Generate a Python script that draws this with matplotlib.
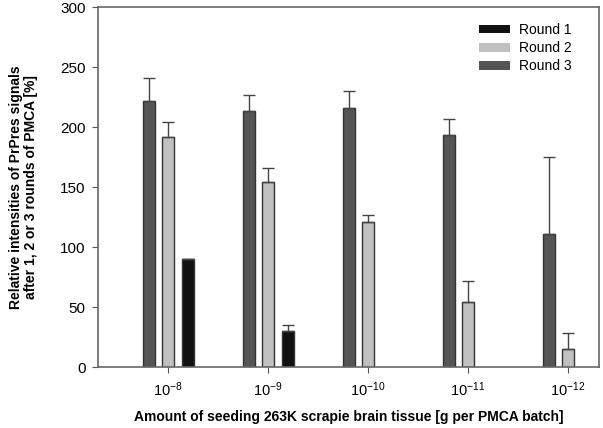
import numpy as np
import matplotlib.pyplot as plt

plt.rcParams['font.family'] = ['Liberation Sans', 'DejaVu Sans']
plt.rcParams['mathtext.fontset'] = 'custom'
plt.rcParams['mathtext.rm'] = 'Liberation Sans'
plt.rcParams['mathtext.it'] = 'Liberation Sans:italic'
plt.rcParams['mathtext.bf'] = 'Liberation Sans:bold'

doses = ['$\\mathregular{10^{-8}}$', '$\\mathregular{10^{-9}}$', '$\\mathregular{10^{-10}}$',
         '$\\mathregular{10^{-11}}$', '$\\mathregular{10^{-12}}$']
round1 = [90, 30, 0, 0, 0]
round1_err = [0, 5, 0, 0, 0]
round2 = [192, 154, 121, 54, 15]
round2_err = [12, 12, 6, 18, 13]
round3 = [222, 213, 216, 193, 111]
round3_err = [19, 14, 14, 14, 64]

x = np.arange(len(doses))
w = 0.125
edge = '#333333'

fig = plt.figure(figsize=(6.03, 4.28), dpi=100)
ax = fig.add_axes([0.1625, 0.1425, 0.831, 0.841])

def draw(pos, vals, errs, color, label):
    vals = np.array(vals, dtype=float)
    errs = np.array(errs, dtype=float)
    keep = vals > 0
    ax.bar(pos[keep], vals[keep], w, color=color, edgecolor=edge, linewidth=1.0, label=label,
           yerr=[np.zeros(keep.sum()), errs[keep]],
           error_kw=dict(ecolor='#444444', elinewidth=1.0, capsize=4, capthick=1.0))

draw(x + 0.2, round1, round1_err, '#111111', 'Round 1')
draw(x, round2, round2_err, '#c0c0c0', 'Round 2')
draw(x - 0.19, round3, round3_err, '#555555', 'Round 3')

ax.set_xlim(-0.7, 4.31)
ax.set_ylim(0, 300)
ax.set_yticks(np.arange(0, 301, 50))
ax.set_xticks(x)
ax.set_xticklabels(doses)
ax.tick_params(labelsize=11, length=4, color='#555555', pad=5)
ax.tick_params(axis='x', labelsize=10.5, pad=6)
for s in ax.spines.values():
    s.set_color('#666666')
    s.set_linewidth(1.2)

ax.set_xlabel('Amount of seeding 263K scrapie brain tissue [g per PMCA batch]',
              fontsize=10, fontweight='bold')
ax.xaxis.set_label_coords(0.5, -0.12)
ax.set_ylabel('Relative intensities of PrPres signals\nafter 1, 2 or 3 rounds of PMCA [%]',
              fontsize=10, fontweight='bold', linespacing=1.1)
ax.yaxis.set_label_coords(-0.12, 0.5)

leg = ax.legend(loc='upper right', frameon=False, fontsize=10, handlelength=2.25,
                handleheight=0.55, labelspacing=0.3, handletextpad=0.6,
                bbox_to_anchor=(0.97, 0.99))
for p in leg.get_patches():
    p.set_edgecolor('none')

fig.savefig('out.png', dpi=100)
